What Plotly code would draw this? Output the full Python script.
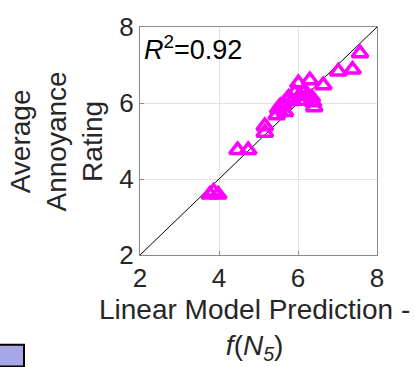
import plotly.graph_objects as go

# Data
pred_x = [7.57, 7.38, 7.02, 6.64, 6.30, 6.01, 6.41, 6.35, 5.92, 5.76, 5.63, 5.50,
          5.46, 5.67, 5.16, 5.16, 6.18, 6.13, 4.47, 4.74, 3.77, 3.98, 3.86, 6.05, 5.85,
          6.25, 5.55, 6.38]
rating_y = [7.31, 6.88, 6.83, 6.47, 6.60, 6.52, 5.89, 6.14, 6.27, 6.14, 5.97, 5.85,
            5.68, 5.76, 5.39, 5.22, 6.06, 6.27, 4.76, 4.76, 3.59, 3.59, 3.67, 6.20, 6.05,
            6.20, 5.92, 6.02]
diag = [2, 8]
tick_vals = [2, 4, 6, 8]
r2_text = "<i>R</i><sup>2</sup>=0.92"

W, H = 415, 367
L, R, T, B = 140, 38, 16, 112
pw, ph = W - L - R, H - T - B

def px(x):
    return (x - L) / pw

def py(y):
    return (H - B - y) / ph

FONT = "Arial, Liberation Sans, sans-serif"
TXT = "#262626"

fig = go.Figure()
fig.add_trace(go.Scatter(x=diag, y=diag, mode="lines",
                         line=dict(color="black", width=1), hoverinfo="skip"))
fig.add_trace(go.Scatter(x=pred_x, y=rating_y, mode="markers",
                         marker=dict(symbol="triangle-up-open", size=14,
                                     color="#ff00ff", line=dict(width=3.5, color="#ff00ff"))))

axis_common = dict(range=[2, 8], tickvals=tick_vals, showgrid=True, gridcolor="#e3e3e3",
                   gridwidth=1, showline=True, linecolor="#8a8a8a", linewidth=1, mirror=True,
                   ticks="inside", ticklen=4, tickcolor="#8a8a8a", zeroline=False,
                   tickfont=dict(family=FONT, size=26, color=TXT))

fig.update_xaxes(**axis_common)
fig.update_yaxes(**axis_common)

fig.add_annotation(text=r2_text, x=px(142), y=py(18), xref="paper", yref="paper",
                   xanchor="left", yanchor="top", showarrow=False,
                   font=dict(family=FONT, size=27, color="black"))
fig.add_annotation(text="Linear Model Prediction -<br><i>f</i>(<i>N</i><sub><i>5</i></sub>)",
                   x=px(254), y=py(294), xref="paper", yref="paper",
                   xanchor="center", yanchor="top", showarrow=False,
                   font=dict(family=FONT, size=28, color=TXT))
fig.add_annotation(text="Average<br>Annoyance<br>Rating", textangle=-90,
                   x=px(57), y=py(136), xref="paper", yref="paper",
                   xanchor="center", yanchor="middle", showarrow=False,
                   font=dict(family=FONT, size=28, color=TXT))

fig.add_shape(type="rect", xref="paper", yref="paper",
              x0=px(-5), x1=px(24), y0=py(372), y1=py(349),
              fillcolor="#a7a7e8", line=dict(color="black", width=2))

fig.update_layout(width=W, height=H, margin=dict(l=L, r=R, t=T, b=B),
                  paper_bgcolor="white", plot_bgcolor="white", showlegend=False)

fig.write_html("out.html")
